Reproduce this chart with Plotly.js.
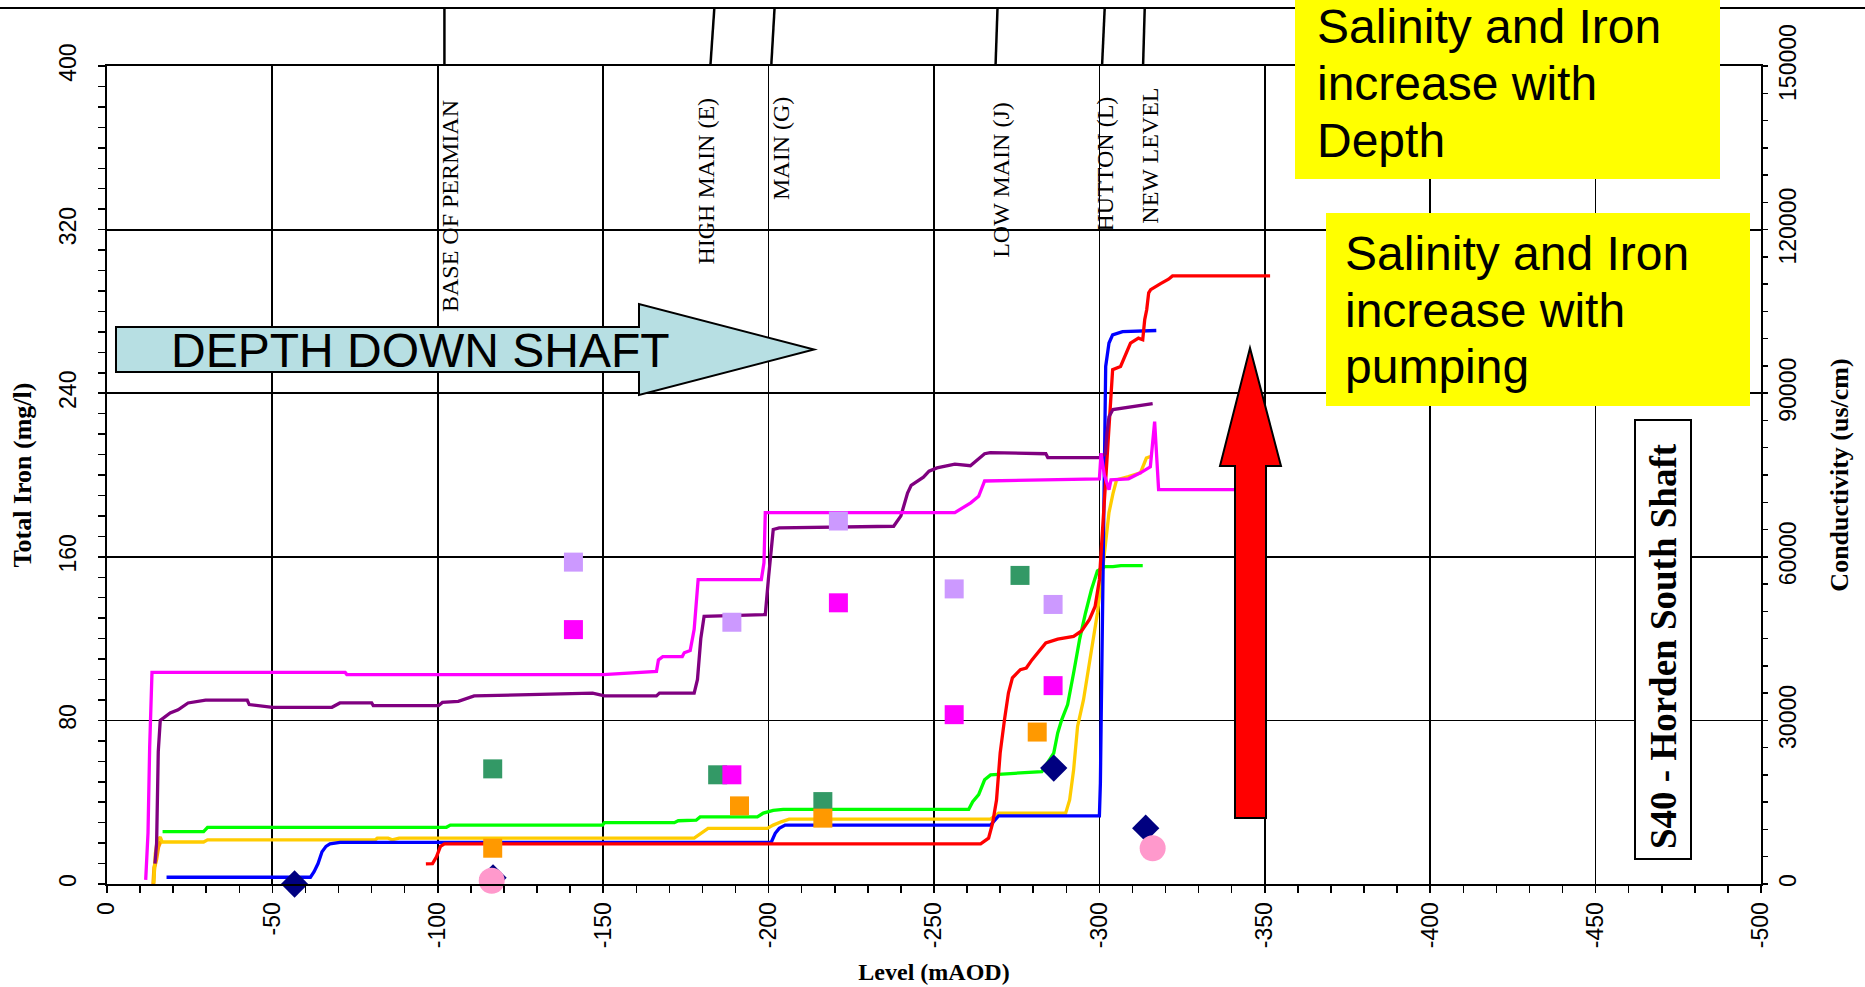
<!DOCTYPE html>
<html><head><meta charset="utf-8">
<script src="https://cdn.plot.ly/plotly-3.0.1.min.js"></script>
<style>html,body{margin:0;padding:0;background:#fff}#chart{width:1865px;height:987px}</style>
</head><body><div id="chart"></div>
<script>
// ---------------- DATA ----------------
const xTickVals = [0, -50, -100, -150, -200, -250, -300, -350, -400, -450, -500];
const xTickText = ['0', '-50', '-100', '-150', '-200', '-250', '-300', '-350', '-400', '-450', '-500'];
const ironTickVals = [0, 80, 160, 240, 320, 400];
const ironTickText = ['0', '80', '160', '240', '320', '400'];
const condTickVals = [0, 30000, 60000, 90000, 120000, 150000];
const condTickText = ['0', '30000', '60000', '90000', '120000', '150000'];

// seam horizons (Level, mAOD)
const seamNames = ['BASE OF PERMIAN', 'HIGH MAIN (E)', 'MAIN (G)', 'LOW MAIN (J)', 'HUTTON (L)', 'NEW LEVEL'];
const seamLevels = [-102, -182.4, -200.8, -268.6, -300.8, -313.2];
const seamLevelsTop = [-102, -183.6, -201.8, -269.2, -301.6, -313.7];

// conductivity logs (us/cm) against level (mAOD)
const magentaX = [-11.7,-12.4,-12.9,-13.6,-72,-72.5,-150,-166.1,-166.7,-168,-173.9,-174.5,-176.3,-177.5,-178.7,-197.8,-198.6,-199,-256.3,-261.1,-263.5,-265.3,-300,-300.5,-301.5,-302.9,-303.5,-308.8,-312.4,-315.4,-316.7,-317.9,-341];
const magentaY = [750,9400,25100,38800,38800,38400,38400,39000,41100,41700,41700,42400,42800,46700,55800,55800,58900,68100,68100,69900,71100,73900,74300,79000,75000,72300,74100,74300,75400,76500,84800,72300,72300];

const purpleX = [-14.5,-15,-15.5,-16.1,-19.1,-21.5,-24.5,-29.8,-42.4,-43,-50.1,-68,-70.4,-80,-80.5,-100.2,-101.4,-106.2,-111,-130,-146.8,-150.4,-166.1,-167,-177.5,-178.5,-179.5,-180.5,-199,-200,-201.4,-203.2,-237.8,-240,-242,-243.1,-246.8,-248.5,-250.9,-256.3,-261,-265.3,-267,-283.8,-284.4,-300,-301.8,-302.3,-302.9,-304.1,-307.6,-310,-316.1];
const purpleY = [3750,7500,24300,30000,31350,31950,33200,33700,33700,32900,32400,32400,33200,33200,32700,32700,33300,33500,34500,34700,35000,34500,34500,35000,35000,37500,45000,49100,49400,56300,65000,65300,65600,67500,71700,73100,74600,75700,76300,77000,76700,78900,79100,78900,78200,78200,78900,82700,85700,87000,87300,87600,88100];

const redX = [-96.4,-98.4,-99.6,-100.8,-102,-264.1,-266.5,-267.7,-268.9,-270,-271.3,-272.5,-273.7,-276.1,-277.9,-279.6,-283.8,-287.4,-292.2,-294.6,-297,-298.7,-300,-301.2,-301.6,-303.1,-304,-306.4,-309.4,-311.8,-313.1,-313.7,-314.3,-314.9,-315.5,-318.5,-320.9,-322.1,-351.6];
const redY = [3700,3750,5000,6900,7350,7350,8400,11100,15400,24000,30100,35000,37800,39300,39600,41100,44200,44900,45400,46400,48500,50900,55800,68100,71300,85800,94300,94900,99200,100100,99800,103500,105300,108400,109000,110100,110900,111500,111500];

const blueX = [-18,-61.5,-62.6,-63.8,-65,-66.2,-67.4,-70.4,-200.8,-202,-203.2,-205,-267.1,-268.3,-269.5,-300,-300.3,-300.5,-301.1,-301.5,-301.9,-302.9,-304,-307,-317.2];
const blueY = [1240,1240,2250,3750,5900,6900,7350,7650,7650,9300,10200,10800,10800,11700,12500,12500,18500,28300,61900,71600,94900,99200,100700,101300,101500];

const greenX = [-16.8,-29.2,-30.4,-102.6,-103.8,-149.8,-150.4,-171.5,-172.7,-178.1,-179.3,-196.6,-198.4,-201.4,-204.4,-260.5,-261.7,-263.5,-265.3,-267.1,-274.3,-282.6,-286.2,-287.4,-288.6,-290.4,-292.2,-294,-295.8,-297.6,-299.4,-301.7,-304.1,-306.5,-313.1];
const greenY = [9600,9600,10400,10400,10800,10800,11250,11250,11600,11700,12300,12300,13000,13500,13700,13700,15100,16400,19100,20000,20300,20600,24000,27700,30100,32900,38700,44800,49700,54000,57400,58200,58200,58400,58400];

const goldX = [-14.1,-14.6,-15.2,-16.1,-16.7,-29.2,-30.4,-81.1,-81.7,-85,-86.2,-88.3,-177.5,-179.3,-181.7,-199.6,-201.4,-203.8,-206.2,-267.1,-269.5,-289.8,-291,-292.2,-293.4,-295.2,-297.6,-299.4,-301.2,-302.9,-304.1,-305.2,-308.8,-312.4,-314.2,-315.4];
const goldY = [100,5600,7900,8600,7700,7700,8100,8100,8400,8400,8100,8400,8400,9200,10200,10200,10800,11400,11900,11900,13000,13000,15400,20900,28900,33800,42400,49700,58900,68100,71600,74100,74700,75400,78100,78400];

const orangeLogX = [-14,-14.3,-14.9,-15.5,-16.2];
const orangeLogY = [0,3000,4500,6800,7900];

// total iron samples (mg/l)
const lavenderX = [-141, -188.9, -221.1, -256.1, -286];
const lavenderY = [157.4, 128, 177.5, 144.3, 136.7];
const seaGreenX = [-116.6, -184.6, -216.4, -276];
const seaGreenY = [56.3, 53.4, 40.3, 150.9];
const orangeX = [-116.6, -191.2, -216.4, -281.2];
const orangeY = [17.5, 38.2, 32.2, 74.3];
const magentaSqX = [-141, -188.9, -221.1, -256.1, -286];
const magentaSqY = [124.4, 53.4, 137.5, 82.8, 97];
const navyX = [-56.7, -116.7, -286.2, -314];
const navyY = [0, 3, 56.7, 27.3];
const pinkX = [-116.3, -316.1];
const pinkY = [1.6, 17.5];

// annotation texts
const depthText = 'DEPTH DOWN SHAFT';
const box1Lines = ['Salinity and Iron', 'increase with', 'Depth'];
const box2Lines = ['Salinity and Iron', 'increase with', 'pumping'];
const shaftName = 'S40 - Horden South Shaft';

// ---------------- LAYOUT HELPERS ----------------
const L = 107, R = 1761, T = 66, B = 884;
const px = X => (X - L) / (R - L);
const py = Y => (B - Y) / (B - T);
const path = pts => 'M' + pts.map(p => px(p[0]).toFixed(5) + ',' + py(p[1]).toFixed(5)).join(' L') + ' Z';

const lineTrace = (x, y, color, w) => ({
  type: 'scatter', mode: 'lines', x: x, y: y, xaxis: 'x', yaxis: 'y',
  line: {color: color, width: w || 3.3}, hoverinfo: 'skip', showlegend: false
});
const markTrace = (x, y, color, symbol, size) => ({
  type: 'scatter', mode: 'markers', x: x, y: y, xaxis: 'x', yaxis: 'y2', cliponaxis: false,
  marker: {color: color, symbol: symbol, size: size, line: {width: 0}}, hoverinfo: 'skip', showlegend: false
});

const data = [
  lineTrace(orangeLogX, orangeLogY, '#FF9900', 4),
  lineTrace(goldX, goldY, '#FFCC00'),
  lineTrace(greenX, greenY, '#00FF00'),
  lineTrace(blueX, blueY, '#0000FF'),
  lineTrace(redX, redY, '#FF0000'),
  lineTrace(purpleX, purpleY, '#800080'),
  lineTrace(magentaX, magentaY, '#FF00FF'),
  markTrace(lavenderX, lavenderY, '#CC99FF', 'square', 19),
  markTrace(seaGreenX, seaGreenY, '#339966', 'square', 19),
  markTrace(orangeX, orangeY, '#FF9900', 'square', 19),
  markTrace(magentaSqX, magentaSqY, '#FF00FF', 'square', 19),
  markTrace(navyX, navyY, '#000080', 'diamond', 21),
  markTrace(pinkX, pinkY, '#FF99CC', 'circle', 26)
];

const serif = 'Liberation Serif, Times New Roman, serif';
const sans = 'Liberation Sans, Arial, sans-serif';
const tickFont = {family: sans, size: 23, color: '#000'};

const shapes = [];
// rule line across the top of the slide
shapes.push({type: 'line', xref: 'paper', yref: 'paper', x0: px(0), x1: px(1865), y0: py(8), y1: py(8), line: {color: '#000', width: 2}, layer: 'above'});
// seam connectors
seamLevels.forEach((lv, i) => shapes.push({type: 'line', xref: 'x', yref: 'paper', x0: lv, y0: 1, x1: seamLevelsTop[i], y1: py(8), line: {color: '#000', width: 2.5}, layer: 'above'}));
// DEPTH DOWN SHAFT block arrow
shapes.push({type: 'path', xref: 'paper', yref: 'paper', layer: 'above',
  path: path([[116, 327], [639, 327], [639, 304], [814, 349.5], [639, 395], [639, 372], [116, 372]]),
  fillcolor: '#B7DFE3', line: {color: '#000', width: 2}});
// red pumping arrow
shapes.push({type: 'path', xref: 'paper', yref: 'paper', layer: 'above',
  path: path([[1235, 818], [1235, 466], [1220, 466], [1250, 348], [1281, 466], [1266, 466], [1266, 818]]),
  fillcolor: '#FF0000', line: {color: '#000', width: 2}});
// yellow call-out boxes
shapes.push({type: 'rect', xref: 'paper', yref: 'paper', layer: 'above', x0: px(1295), x1: px(1720), y0: py(0), y1: py(179), fillcolor: '#FFFF00', line: {width: 0}});
shapes.push({type: 'rect', xref: 'paper', yref: 'paper', layer: 'above', x0: px(1326), x1: px(1750), y0: py(213), y1: py(406), fillcolor: '#FFFF00', line: {width: 0}});
// shaft name box
shapes.push({type: 'rect', xref: 'paper', yref: 'paper', layer: 'above', x0: px(1635), x1: px(1691), y0: py(420), y1: py(859), fillcolor: '#FFFFFF', line: {color: '#000', width: 2}});

const labelShift = [-1.7, 1.6, -2.8, -1.6, -0.6, -2];
const labelTop = [99, 97, 96, 101, 96, 87];
const annotations = seamNames.map((name, i) => ({
  xref: 'x', yref: 'paper', x: seamLevels[i] + labelShift[i], y: py(labelTop[i]),
  xanchor: 'center', yanchor: 'top', textangle: -90, showarrow: false, text: name,
  font: {family: serif, size: 24, color: '#000'}, borderpad: 0
}));
annotations.push({xref: 'paper', yref: 'paper', x: px(420), y: py(350), xanchor: 'center', yanchor: 'middle', showarrow: false,
  text: depthText, font: {family: sans, size: 48, color: '#000'}});
const calloutSize = 48;
const addLines = (lines, left, baselines) => lines.forEach((t, i) => annotations.push({
  xref: 'paper', yref: 'paper', x: px(left), y: py(baselines[i] - 0.3465 * calloutSize), xanchor: 'left', yanchor: 'middle',
  showarrow: false, text: t, font: {family: sans, size: calloutSize, color: '#000'}, borderpad: 0
}));
addLines(box1Lines, 1316, [43, 100, 157]);
addLines(box2Lines, 1344, [270, 327, 383]);
annotations.push({xref: 'paper', yref: 'paper', x: px(1663), y: py(646), xanchor: 'center', yanchor: 'middle', showarrow: false,
  textangle: -90, text: '<b>' + shaftName + '</b>', font: {family: serif, size: 37, color: '#000'}, borderpad: 0});

const layout = {
  width: 1865, height: 987,
  margin: {l: L, r: 1865 - R, t: T, b: 987 - B, pad: 0},
  paper_bgcolor: '#FFFFFF', plot_bgcolor: '#FFFFFF',
  showlegend: false, hovermode: false,
  xaxis: {
    range: [0, -500], tickvals: xTickVals, ticktext: xTickText, tickangle: -90, tickfont: tickFont,
    ticks: 'outside', ticklen: 7, tickwidth: 1.5, tickcolor: '#000',
    minor: {dtick: 10, ticks: 'outside', ticklen: 7, tickwidth: 1.5, tickcolor: '#000', showgrid: false},
    showline: true, mirror: true, linecolor: '#000', linewidth: 2,
    showgrid: true, gridcolor: '#000', gridwidth: 1.8, zeroline: false,
    title: {text: '<b>Level (mAOD)</b>', font: {family: serif, size: 24, color: '#000'}, standoff: 16}, automargin: false
  },
  yaxis: {
    side: 'right', range: [0, 150000], tickvals: condTickVals, ticktext: condTickText, tickangle: -90, tickfont: tickFont,
    ticks: 'outside', ticklen: 5, tickwidth: 1.5, tickcolor: '#000',
    minor: {dtick: 5000, ticks: 'outside', ticklen: 5, tickwidth: 1.5, tickcolor: '#000', showgrid: false},
    showline: true, linecolor: '#000', linewidth: 2, showgrid: false, zeroline: false,
    title: {text: '<b>Conductivity (us/cm)</b>', font: {family: serif, size: 26, color: '#000'}, standoff: 30}, automargin: false
  },
  yaxis2: {
    side: 'left', overlaying: 'y', range: [0, 400], tickvals: ironTickVals, ticktext: ironTickText, tickangle: -90, tickfont: tickFont,
    ticks: 'outside', ticklen: 7, tickwidth: 1.5, tickcolor: '#000', ticklabelstandoff: 13,
    minor: {dtick: 10, ticks: 'outside', ticklen: 7, tickwidth: 1.5, tickcolor: '#000', showgrid: false},
    showline: true, linecolor: '#000', linewidth: 2,
    showgrid: true, gridcolor: '#000', gridwidth: 1.8, zeroline: false,
    title: {text: '<b>Total Iron (mg/l)</b>', font: {family: serif, size: 26, color: '#000'}, standoff: 16}, automargin: false
  },
  shapes: shapes,
  annotations: annotations
};

Plotly.newPlot('chart', data, layout, {displayModeBar: false, staticPlot: true});
</script>
</body></html>
